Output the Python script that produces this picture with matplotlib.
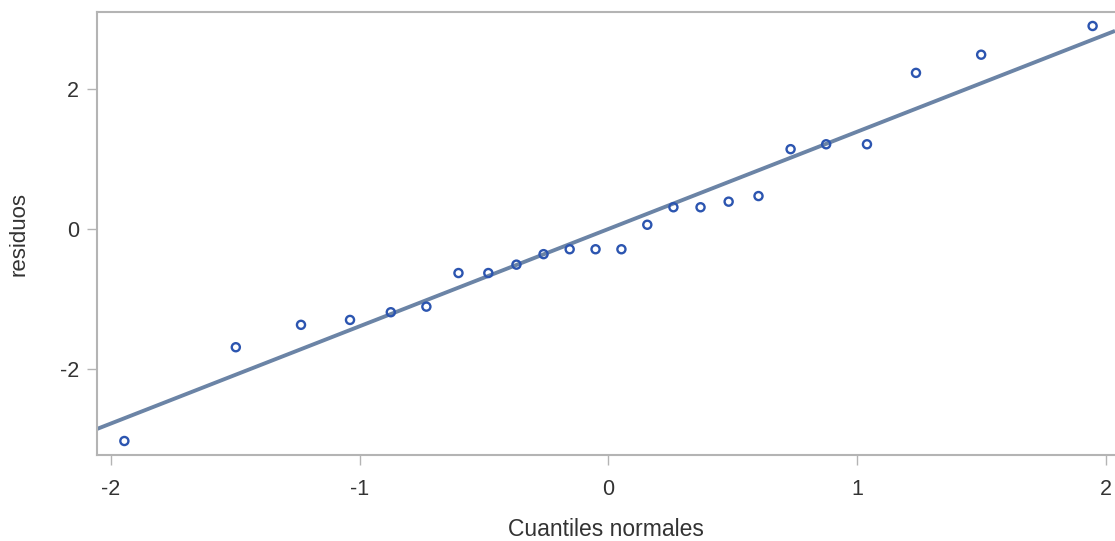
import matplotlib
matplotlib.use("Agg")
import matplotlib.pyplot as plt
import numpy as np

quantiles = [-1.946, -1.498, -1.236, -1.039, -0.875, -0.732, -0.603, -0.483,
             -0.370, -0.261, -0.156, -0.052, 0.052, 0.156, 0.261, 0.370,
             0.483, 0.603, 0.732, 0.875, 1.039, 1.236, 1.498, 1.946]
residuos = [-3.03, -1.69, -1.37, -1.30, -1.19, -1.11, -0.63, -0.63,
            -0.51, -0.36, -0.29, -0.29, -0.29, 0.06, 0.31, 0.31,
            0.39, 0.47, 1.14, 1.21, 1.21, 2.23, 2.49, 2.90]
line_intercept = 0.0
line_slope = 1.39
xticks = [-2, -1, 0, 1, 2]
yticks = [-2, 0, 2]

plt.rcParams['font.family'] = ['Liberation Sans', 'DejaVu Sans']
fig = plt.figure(figsize=(11.15, 5.41), dpi=100)
ax = fig.add_axes([97/1115, 1-455/541, 1-97/1115, (455-12)/541])

xlim = (-2.056, 2.036)
ylim = (-3.23, 3.10)
lx = np.array(xlim)
ax.plot(lx, line_intercept + line_slope*lx, color='#6b84a6', lw=2.8, zorder=2,
        solid_capstyle='butt')
ax.scatter(quantiles, residuos, s=34, facecolors='none', edgecolors='#2c55b0',
           linewidths=1.7, zorder=3)

ax.set_xlim(*xlim)
ax.set_ylim(*ylim)
ax.set_xticks(xticks)
ax.set_yticks(yticks)
ax.set_xticklabels([str(t) for t in xticks])
ax.set_yticklabels([str(t) for t in yticks])

for s in ['left', 'bottom', 'top']:
    ax.spines[s].set_color('#b4b4b4')
    ax.spines[s].set_linewidth(1.5)
ax.spines['right'].set_visible(False)
ax.tick_params(axis='both', colors='#b4b4b4', length=7, width=1, labelcolor='#333333',
               labelsize=15.5)
ax.tick_params(axis='x', pad=10)
ax.tick_params(axis='y', pad=6)

ax.set_xlabel('Cuantiles normales', fontsize=16.5, color='#333333', labelpad=13)
ax.set_ylabel('residuos', fontsize=16, color='#333333', labelpad=22)

fig.savefig('out.png', dpi=100)
